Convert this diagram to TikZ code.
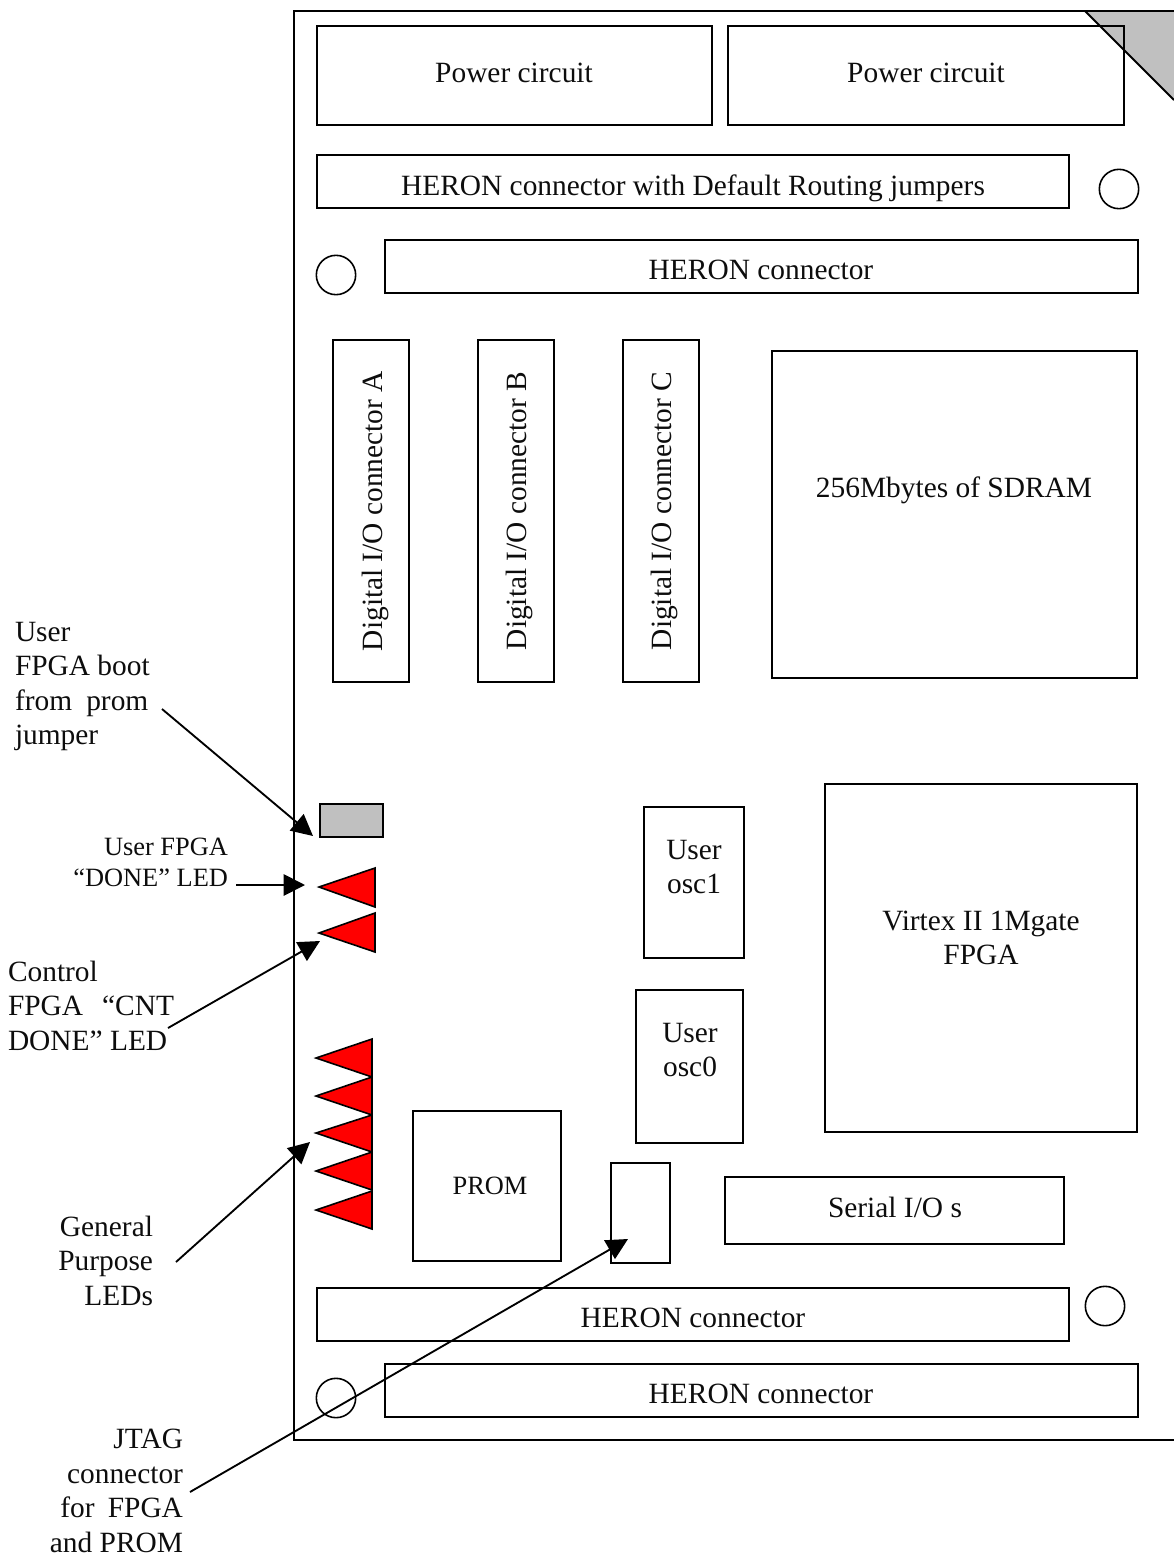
\documentclass[tikz,border=0pt]{standalone}
\usepackage{fontspec}
\setmainfont{Liberation Serif}
\usetikzlibrary{arrows.meta,fit}
\definecolor{boardgray}{RGB}{192,192,192}
\newcommand{\bigfont}{\fontsize{22.05}{25.9}\selectfont}
\newcommand{\smallfont}{\fontsize{19.8}{23.25}\selectfont}
\newcommand{\spreadline}[2]{\makebox[#1pt][s]{#2}}
\tikzset{
  every node/.style={inner sep=0pt,outer sep=0pt},
  partbox/.style={draw=black,line width=1.4pt,inner sep=0pt},
  jumperbox/.style={partbox,fill=boardgray},
  hole/.style={draw=black,line width=1.2pt,circle,minimum size=29.5pt},
  lbl/.style={font=\bigfont,text=black!95},
  smalllbl/.style={font=\smallfont,text=black!95},
  led/.style={draw=black,line width=1.2pt,fill=red,line join=miter},
  callout/.style={draw=black,line width=1.4pt,-{Triangle[length=16pt,width=16pt]},shorten >=0pt},
  boardline/.style={draw=black,line width=1.4pt}
}
\begin{document}
\begin{tikzpicture}[x=0.75pt,y=-0.75pt]
\useasboundingbox (0,0) rectangle (1174,1556);
% corner
\fill[boardgray] (1085,11) -- (1174,100) -- (1174,11) -- cycle;
\draw[boardline] (1085,11) -- (1174,100);
% board
\draw[boardline] (1174,11) -- (294,11) -- (294,1440) -- (1174,1440);
% boxes
\node[partbox,fit={(317,26) (712,125)}] (powerA) {};
\node[partbox,fit={(728,26) (1124,125)}] (powerB) {};
\node[partbox,fit={(317,155) (1069,208)}] (heronRouting) {};
\node[partbox,fit={(385,240) (1138,293)}] (heronTop) {};
\node[partbox,fit={(333,340) (409,682)}] (digA) {};
\node[partbox,fit={(478,340) (554,682)}] (digB) {};
\node[partbox,fit={(623,340) (699,682)}] (digC) {};
\node[partbox,fit={(772,351) (1137,678)}] (sdram) {};
\node[jumperbox,fit={(320,804) (383,837)}] (bootjumper) {};
\node[partbox,fit={(825,784) (1137,1132)}] (virtex) {};
\node[partbox,fit={(644,807) (744,958)}] (oscA) {};
\node[partbox,fit={(636,990) (743,1143)}] (oscB) {};
\node[partbox,fit={(413,1111) (561,1261)}] (prom) {};
\node[partbox,fit={(611,1163) (670,1263)}] (jtag) {};
\node[partbox,fit={(725,1177) (1064,1244)}] (serial) {};
\node[partbox,fit={(317,1288) (1069,1341)}] (heronLow) {};
\node[partbox,fit={(385,1364) (1138,1417)}] (heronBottom) {};
% holes
\node[hole] (holeA) at (1119,189) {};
\node[hole] (holeB) at (336,275) {};
\node[hole] (holeC) at (1105,1306) {};
\node[hole] (holeD) at (336,1398) {};
% box labels
\node[lbl,anchor=base] (tPowerA) at (514,82) {Power circuit};
\node[lbl,anchor=base] (tPowerB) at (926,82) {Power circuit};
\node[lbl,anchor=base] (tRouting) at (693,195) {HERON connector with Default Routing jumpers};
\node[lbl,anchor=base] (tTop) at (761,279) {HERON connector};
\node[lbl,anchor=base,rotate=90] (tDigA) at (382,511) {Digital I/O connector A};
\node[lbl,anchor=base,rotate=90] (tDigB) at (526,511) {Digital I/O connector B};
\node[lbl,anchor=base,rotate=90] (tDigC) at (671,511) {Digital I/O connector C};
\node[lbl,anchor=base] (tSdram) at (954,497) {256Mbytes of SDRAM};
\node[lbl,align=center] (tVirtex) at (981,938) {Virtex II 1Mgate\\FPGA};
\node[lbl,align=center] (tOscA) at (694,867) {User\\osc1};
\node[lbl,align=center] (tOscB) at (690,1050) {User\\osc0};
\node[smalllbl,anchor=base] (tProm) at (490,1194) {PROM};
\node[lbl,anchor=base] (tSerial) at (895,1217) {Serial I/O s};
\node[lbl,anchor=base] (tLow) at (693,1327) {HERON connector};
\node[lbl,anchor=base] (tBottom) at (761,1403) {HERON connector};
% LEDs
\draw[led] (319,887) -- (375,868) -- (375,907) -- cycle;
\draw[led] (319,933) -- (375,913) -- (375,952) -- cycle;
\draw[led] (316,1058) -- (372,1039) -- (372,1077) -- cycle;
\draw[led] (316,1096) -- (372,1077) -- (372,1115) -- cycle;
\draw[led] (316,1133) -- (372,1115) -- (372,1152) -- cycle;
\draw[led] (316,1171) -- (372,1152) -- (372,1190) -- cycle;
\draw[led] (316,1210) -- (372,1191) -- (372,1229) -- cycle;
% side labels
\node[lbl,align=left,anchor=north west] (cBoot) at (15,622) {User\\FPGA boot\\\spreadline{100}{from prom}\\jumper};
\node[smalllbl,align=right,anchor=north east] (cDone) at (228,838) {User FPGA\\“DONE” LED};
\node[lbl,align=left,anchor=north west] (cCnt) at (8,961) {Control\\\spreadline{124.5}{FPGA “CNT}\\DONE” LED};
\node[lbl,align=right,anchor=north east] (cGp) at (153,1216) {General\\Purpose\\LEDs};
\node[lbl,align=right,anchor=north east] (cJtag) at (183,1429) {JTAG\\connector\\\spreadline{92}{for FPGA}\\and PROM};
% connector ends
\coordinate (sBoot) at (162,709);
\coordinate (eBoot) at (313,836);
\coordinate (sDone) at (236,885);
\coordinate (eDone) at (305,885);
\coordinate (sCnt) at (168,1028);
\coordinate (eCnt) at (320,941);
\coordinate (sGp) at (176,1262);
\coordinate (eGp) at (310,1142);
\coordinate (sJtag) at (190,1492);
\coordinate (eJtag) at (628,1239);
\draw[callout] (sBoot) -- (eBoot);
\draw[callout] (sDone) -- (eDone);
\draw[callout] (sCnt) -- (eCnt);
\draw[callout] (sGp) -- (eGp);
\draw[callout] (sJtag) -- (eJtag);
\end{tikzpicture}
\end{document}
